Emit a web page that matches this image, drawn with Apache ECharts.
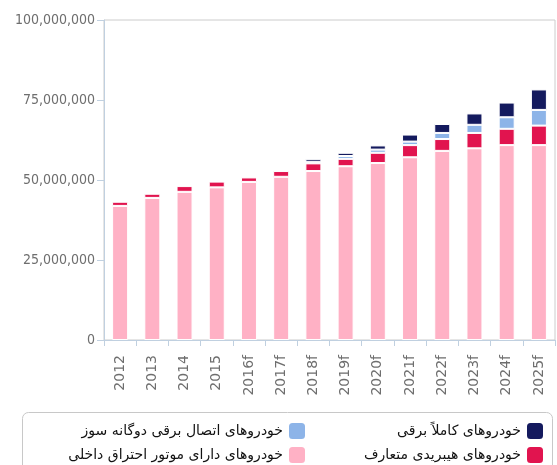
<!DOCTYPE html>
<html>
<head>
<meta charset="utf-8">
<script src="https://cdn.jsdelivr.net/npm/echarts@6/dist/echarts.min.js"></script>
<style>html,body{margin:0;padding:0;background:#fff;}#c{width:557px;height:465px;}</style>
</head>
<body>
<div id="c"></div>
<script>
const categories = ['2012','2013','2014','2015','2016f','2017f','2018f','2019f','2020f','2021f','2022f','2023f','2024f','2025f'];
const seriesNames = ['خودروهای دارای موتور احتراق داخلی','خودروهای هیبریدی متعارف','خودروهای اتصال برقی دوگانه سوز','خودروهای کاملاً برقی'];
const iceValues    = [41.9, 44.4, 46.3, 47.7, 49.4, 51.0, 52.8, 54.3, 55.3, 57.1, 59.1, 59.9, 60.9, 60.9];
const hybridValues = [1.3, 1.3, 1.8, 1.8, 1.4, 1.8, 2.4, 2.3, 3.2, 3.8, 3.7, 4.8, 5.1, 6.1];
const plugValues   = [null, null, null, null, null, null, 0.5, 0.9, 1.0, 1.1, 1.9, 2.55, 3.6, 4.9];
const bevValues    = [null, null, null, null, null, null, 0.9, 1.0, 1.3, 2.2, 2.8, 3.55, 4.6, 6.4];
const yTicks = [0, 25000000, 50000000, 75000000, 100000000];
const colors = ['#ffb1c5', '#e1144f', '#8db4e8', '#141a5e'];

const M = 1000000;
const toUnits = arr => arr.map(v => v == null ? null : Math.round(v * M));
const dataSets = [iceValues, hybridValues, plugValues, bevValues];

const chart = echarts.init(document.getElementById('c'), null, {renderer: 'canvas'});
const fmt = v => String(v).replace(/\B(?=(\d{3})+(?!\d))/g, ',');
const legendPos = [
  {name: seriesNames[3], right: 12, top: 421},
  {name: seriesNames[1], right: 12, top: 445},
  {name: seriesNames[2], right: 250, top: 421},
  {name: seriesNames[0], right: 250, top: 445}
];
chart.setOption({
  animation: false,
  grid: {left: 104, right: 2, top: 20, bottom: 125, show: true, borderColor: '#cccccc', borderWidth: 1, backgroundColor: 'transparent'},
  legend: legendPos.map(p => ({
    data: [p.name], right: p.right, top: p.top, orient: 'horizontal', align: 'right',
    padding: 0, itemWidth: 18, itemHeight: 18, icon: 'roundRect', selectedMode: false,
    textStyle: {fontFamily: 'DejaVu Sans', fontSize: 14, color: '#111'}
  })),
  graphic: [{type: 'rect', shape: {x: 22.5, y: 412.5, width: 530, height: 70, r: 6}, style: {fill: 'none', stroke: '#c8c8c8', lineWidth: 1}, z: -1}],
  xAxis: {
    type: 'category', data: categories,
    axisLine: {lineStyle: {color: '#c0d0e0', width: 1}},
    axisTick: {show: true, length: 6, lineStyle: {color: '#c0d0e0'}},
    axisLabel: {rotate: 90, margin: 15, color: '#6e6e6e', fontFamily: 'DejaVu Sans', fontSize: 14},
    splitLine: {show: false}
  },
  yAxis: {
    type: 'value', min: 0, max: 100000000, interval: 25000000,
    axisLine: {show: true, lineStyle: {color: '#c0d0e0', width: 1}},
    axisTick: {show: true, length: 7, lineStyle: {color: '#c0d0e0'}},
    axisLabel: {margin: 9, color: '#6e6e6e', fontFamily: 'DejaVu Sans Condensed', fontSize: 14,
      formatter: v => yTicks.includes(v) ? fmt(v) : ''},
    splitLine: {show: false}
  },
  series: seriesNames.map((n, i) => ({
    name: n, type: 'bar', stack: 'total', barWidth: 16,
    itemStyle: {color: colors[i], borderColor: '#ffffff', borderWidth: 1},
    data: toUnits(dataSets[i])
  }))
});
</script>
</body>
</html>
